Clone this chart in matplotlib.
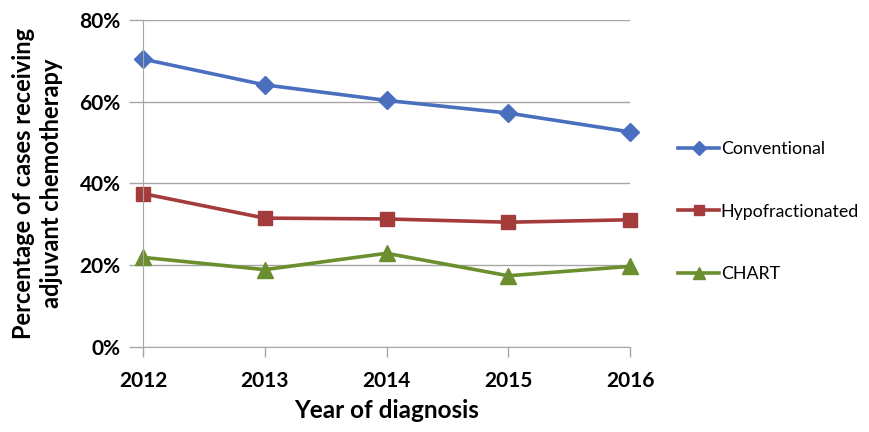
import matplotlib
matplotlib.use("Agg")
import matplotlib.pyplot as plt
from matplotlib.ticker import FuncFormatter

# ── data ─────────────────────────────────────────────────────────────────────
years = [2012, 2013, 2014, 2015, 2016]
conventional = [70.4, 64.1, 60.3, 57.2, 52.6]
hypofractionated = [37.5, 31.5, 31.3, 30.5, 31.1]
chart = [21.9, 18.9, 22.9, 17.4, 19.7]
y_ticks = [0, 20, 40, 60, 80]

BLUE, RED, GREEN = "#4A6FBF", "#A33C3A", "#6B8E2E"
GRID = "#A6A6A6"
FONT = "Lato"

fig = plt.figure(figsize=(8.69, 4.32), dpi=100)
ax = fig.add_axes([0.1646, 0.197, 0.5604, 0.757])

ax.plot(years, conventional, color=BLUE, lw=2.6, marker="D", ms=9, label="Conventional", clip_on=False)
ax.plot(years, hypofractionated, color=RED, lw=2.6, marker="s", ms=10, label="Hypofractionated", clip_on=False)
ax.plot(years, chart, color=GREEN, lw=2.6, marker="^", ms=11, label="CHART", clip_on=False)

ax.set_xlim(2012, 2016)
ax.set_ylim(0, 80)
ax.set_xticks(years)
ax.set_yticks(y_ticks)
ax.yaxis.set_major_formatter(FuncFormatter(lambda v, _: f"{v:.0f}%"))
ax.grid(axis="y", color=GRID, lw=1)
ax.set_axisbelow(True)
for s in ("top", "right"):
    ax.spines[s].set_visible(False)
for s in ("left", "bottom"):
    ax.spines[s].set_color(GRID)
ax.tick_params(axis="y", length=10, color=GRID, width=1, pad=6)
ax.tick_params(axis="x", length=7, color=GRID, width=1, pad=10)
for lbl in ax.get_xticklabels() + ax.get_yticklabels():
    lbl.set_fontfamily(FONT)
    lbl.set_fontweight("bold")
    lbl.set_fontsize(15)

ax.set_xlabel("Year of diagnosis", family=FONT, fontweight="bold", fontsize=17.5, labelpad=6)
ax.set_ylabel("Percentage of cases receiving\nadjuvant chemotherapy", family=FONT,
              fontweight="bold", fontsize=17, linespacing=1.25, labelpad=12)

fig.legend(loc="center left", bbox_to_anchor=(0.762, 0.51), frameon=False,
           prop={"family": FONT, "size": 12.8}, labelspacing=2.6, markerscale=0.75,
           handlelength=2.3, handletextpad=0.1)

fig.savefig("out.png", dpi=100)
